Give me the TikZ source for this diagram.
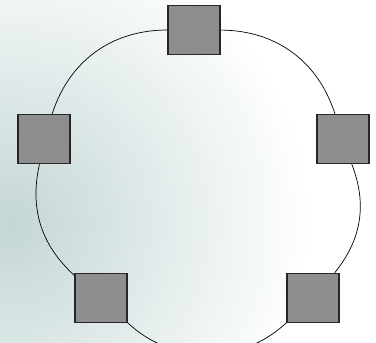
\documentclass[tikz,border=0pt]{standalone}
\usetikzlibrary{backgrounds}
\definecolor{boxgray}{RGB}{142,142,142}
\definecolor{wash}{RGB}{196,214,214}

\begin{document}
\begin{tikzpicture}[x=1pt,y=1pt,station/.style={rectangle,draw=black!85,line width=1.4pt,fill=boxgray,minimum width=52pt,minimum height=49pt,inner sep=0pt},ring/.style={line width=0.7pt}]
\useasboundingbox (0,0) rectangle (376,343);
\coordinate (T) at (194,313);
\coordinate (R) at (343,204);
\coordinate (BR) at (313,45);
\coordinate (BL) at (101,45);
\coordinate (L) at (44,204);
\node[station] (top) at (T) {};
\node[station] (right) at (R) {};
\node[station] (botright) at (BR) {};
\node[station] (botleft) at (BL) {};
\node[station] (left) at (L) {};
\begin{pgfonlayer}{background}
\begin{scope}
\clip (0,0) rectangle (376,343);
\shade[inner color=wash,outer color=white] (10,120) circle (300);
\end{scope}
\draw[ring] (top) to[bend left=36] (right);
\draw[ring] (right) to[bend left=30] (botright);
\draw[ring] (botright) to[bend left=43] (botleft);
\draw[ring] (botleft) to[bend left=30] (left);
\draw[ring] (left) to[bend left=36] (top);
\end{pgfonlayer}
\end{tikzpicture}
\end{document}
